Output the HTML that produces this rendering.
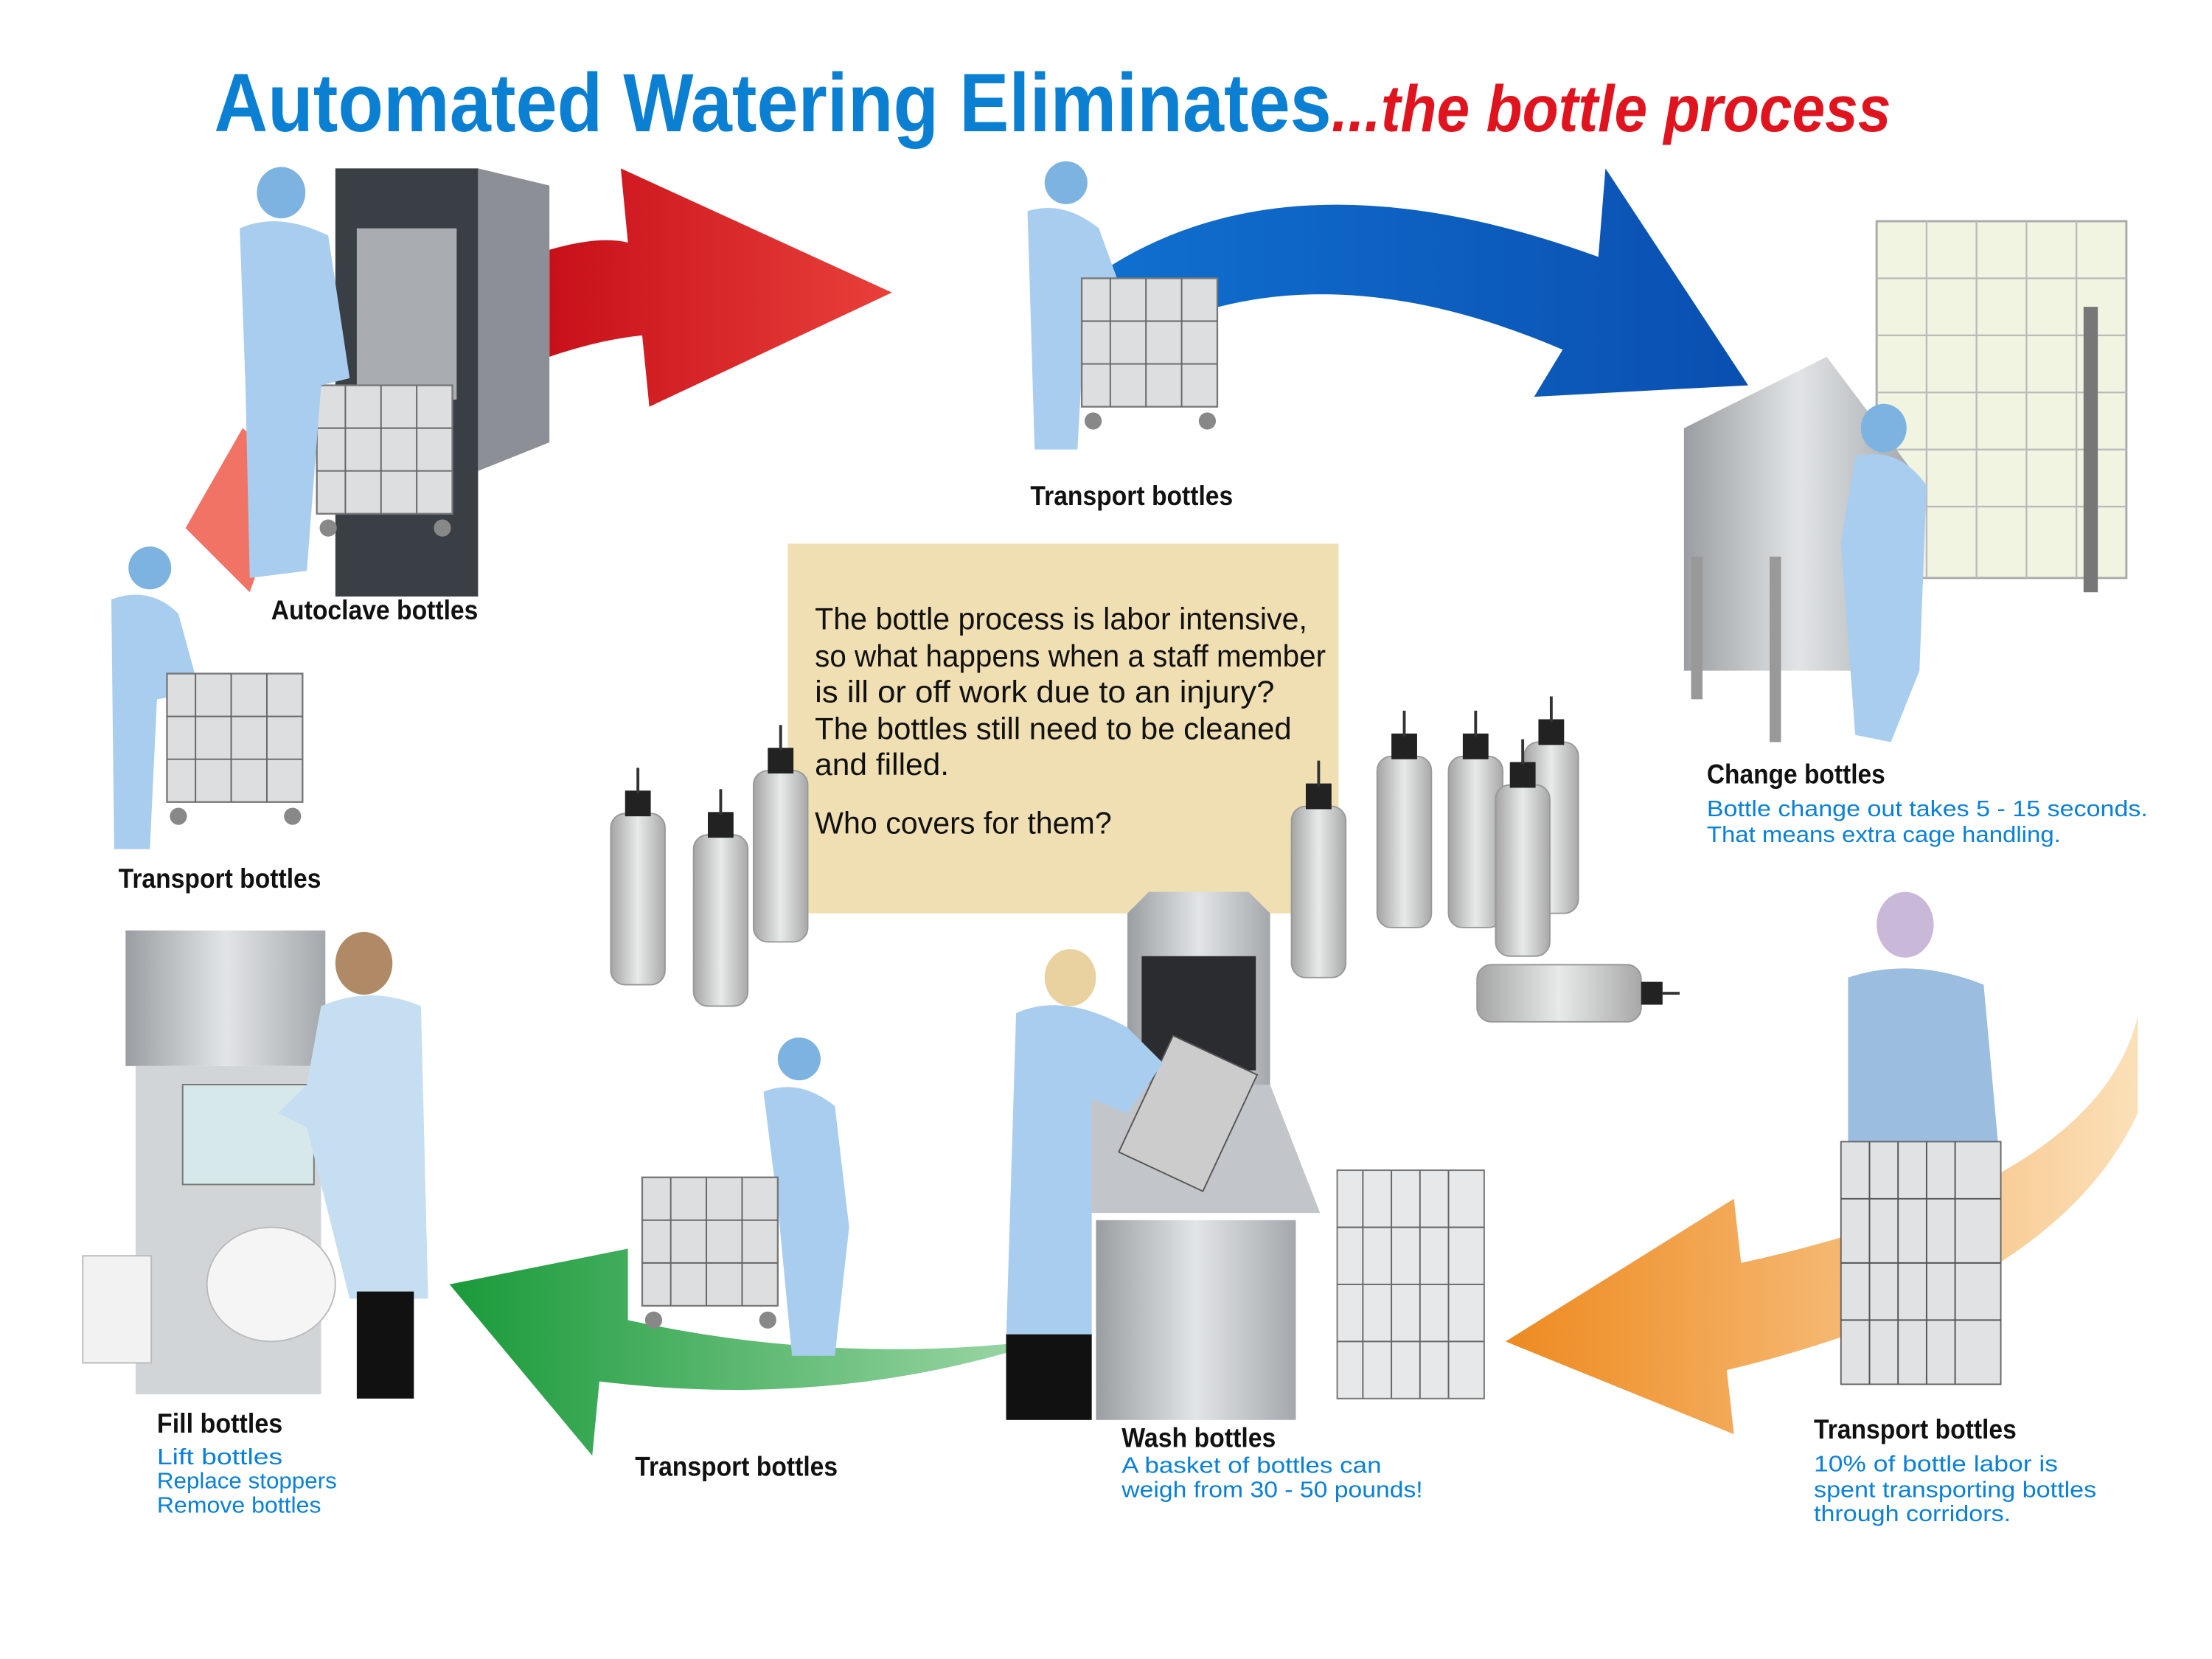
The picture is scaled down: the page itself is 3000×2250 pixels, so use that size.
<!DOCTYPE html>
<html><head><meta charset="utf-8"><style>
html,body{margin:0;padding:0;background:#fff;width:3000px;height:2250px;overflow:hidden}
svg{display:block}
text{font-family:"Liberation Sans",sans-serif}
</style></head><body>
<svg width="3000" height="2250" viewBox="0 0 1550 1162.5" xmlns="http://www.w3.org/2000/svg">
<defs>
<linearGradient id="red" x1="0" x2="1"><stop offset="0" stop-color="#c8101a"/><stop offset="1" stop-color="#e8403a"/></linearGradient>
<linearGradient id="blue" x1="0" x2="1"><stop offset="0" stop-color="#1070d0"/><stop offset="1" stop-color="#0a4fb0"/></linearGradient>
<linearGradient id="green" x1="0" x2="1"><stop offset="0" stop-color="#1a9a3a"/><stop offset="1" stop-color="#a8dcb0"/></linearGradient>
<linearGradient id="orange" x1="0" x2="1"><stop offset="0" stop-color="#ee8a20"/><stop offset="1" stop-color="#fbe0b8"/></linearGradient>
<linearGradient id="bottle" x1="0" x2="1"><stop offset="0" stop-color="#a4a4a4"/><stop offset=".5" stop-color="#e8eaea"/><stop offset="1" stop-color="#a8a8a8"/></linearGradient>
<linearGradient id="metal" x1="0" x2="1"><stop offset="0" stop-color="#9a9ea2"/><stop offset=".5" stop-color="#e2e5e7"/><stop offset="1" stop-color="#a4a8ac"/></linearGradient>
<g id="b"><rect x="-19" y="0" width="38" height="120" rx="10" fill="url(#bottle)" stroke="#999" stroke-width="1"/><rect x="-9" y="-16" width="18" height="18" fill="#222"/><rect x="-1" y="-32" width="2" height="18" fill="#333"/></g>
<g id="cart"><rect x="0" y="0" width="95" height="90" fill="#dcdee0" stroke="#777" stroke-width="1.2"/><path d="M0 30H95M0 60H95M20 0V90M45 0V90M70 0V90" stroke="#666" stroke-width="1"/><circle cx="8" cy="100" r="6" fill="#888"/><circle cx="88" cy="100" r="6" fill="#888"/></g>
</defs>

<!-- title -->
<text x="150" y="92" font-size="58" font-weight="bold" fill="#0b80d2" textLength="783" lengthAdjust="spacingAndGlyphs">Automated Watering Eliminates</text>
<text x="933" y="92" font-size="46" font-weight="bold" font-style="italic" fill="#e0141e" textLength="392" lengthAdjust="spacingAndGlyphs">...the bottle process</text>

<!-- arrows -->
<path d="M130 370 L170 300 L205 330 L175 415 Z" fill="#ee5a4a" opacity=".85"/>
<path d="M385 175 Q420 165 440 170 L435 118 L625 205 L455 285 L450 235 Q420 238 385 250 Z" fill="url(#red)"/>
<path d="M765 195 Q900 100 1120 180 L1125 118 L1225 270 L1075 278 L1095 245 Q920 170 790 240 Z" fill="url(#blue)"/>
<path d="M1498 712 Q1470 830 1220 885 L1215 840 L1055 940 L1215 1005 L1210 960 Q1440 905 1498 780 Z" fill="url(#orange)"/>
<path d="M760 935 Q600 960 440 925 L440 875 L315 900 L415 1020 L420 968 Q600 990 760 930 Z" fill="url(#green)"/>

<!-- autoclave scene -->
<rect x="235" y="118" width="100" height="300" fill="#3a3f46"/>
<path d="M335 118 L385 130 L385 310 L335 330 Z" fill="#8c9096"/>
<rect x="250" y="160" width="70" height="120" fill="#c6c8ca" opacity=".8"/>
<use href="#cart" x="222" y="270"/>
<ellipse cx="197" cy="135" rx="17" ry="18" fill="#7db3e0"/>
<path d="M168 160 Q195 148 230 165 L245 265 L225 270 L215 400 L175 405 L172 270 Z" fill="#a9cdee"/>

<!-- top transport -->
<ellipse cx="747" cy="128" rx="15" ry="15" fill="#7db3e0"/>
<path d="M720 148 Q745 140 770 160 L790 215 L760 225 L755 315 L725 315 Z" fill="#a9cdee"/>
<use href="#cart" x="758" y="195"/>

<!-- left transport -->
<ellipse cx="105" cy="398" rx="15" ry="15" fill="#7db3e0"/>
<path d="M78 420 Q105 410 125 430 L140 485 L110 490 L105 595 L80 595 Z" fill="#a9cdee"/>
<use href="#cart" x="117" y="472"/>

<!-- change bottles -->
<rect x="1315" y="155" width="175" height="250" fill="#f2f4e2" stroke="#aaa" stroke-width="1.5"/>
<path d="M1315 195H1490M1315 235H1490M1315 275H1490M1315 315H1490M1315 355H1490M1350 155V405M1385 155V405M1420 155V405M1455 155V405" stroke="#bbb" stroke-width="1.2"/>
<rect x="1460" y="215" width="10" height="200" fill="#777"/>
<path d="M1180 300 L1280 250 L1340 330 L1340 470 L1180 470 Z" fill="url(#metal)"/>
<rect x="1185" y="390" width="8" height="100" fill="#999"/><rect x="1240" y="390" width="8" height="130" fill="#999"/>
<ellipse cx="1320" cy="300" rx="16" ry="17" fill="#7db3e0"/>
<path d="M1300 320 Q1330 312 1350 340 L1345 470 L1325 520 L1300 515 L1290 380 Z" fill="#a9cdee"/>

<!-- text box -->
<rect x="552" y="381" width="386" height="259" fill="#efdfb2"/>
<g font-size="21.5" fill="#111">
<text x="571" y="441" textLength="345" lengthAdjust="spacingAndGlyphs">The bottle process is labor intensive,</text>
<text x="571" y="467" textLength="358" lengthAdjust="spacingAndGlyphs">so what happens when a staff member</text>
<text x="571" y="492" textLength="322" lengthAdjust="spacingAndGlyphs">is ill or off work due to an injury?</text>
<text x="571" y="518" textLength="334" lengthAdjust="spacingAndGlyphs">The bottles still need to be cleaned</text>
<text x="571" y="543" textLength="94" lengthAdjust="spacingAndGlyphs">and filled.</text>
<text x="571" y="584" textLength="208" lengthAdjust="spacingAndGlyphs">Who covers for them?</text>
</g>

<!-- bottles -->
<use href="#b" x="447" y="570"/><use href="#b" x="505" y="585"/><use href="#b" x="547" y="540"/>
<use href="#b" x="924" y="565"/><use href="#b" x="984" y="530"/><use href="#b" x="1034" y="530"/><use href="#b" x="1087" y="520"/><use href="#b" x="1067" y="550"/>
<rect x="1035" y="676" width="115" height="40" rx="10" fill="url(#bottle)" stroke="#999"/><rect x="1150" y="688" width="15" height="16" fill="#222"/><rect x="1165" y="695" width="12" height="2" fill="#333"/>

<!-- wash scene -->
<path d="M790 640 L805 625 L875 625 L890 640 L890 770 L790 770 Z" fill="url(#metal)"/>
<rect x="800" y="670" width="80" height="80" fill="#2a2c30"/>
<path d="M755 770 L790 760 L890 760 L925 850 L750 850 Z" fill="#c2c6ca"/>
<rect x="768" y="855" width="140" height="140" fill="url(#metal)"/>
<rect x="800" y="735" width="65" height="90" fill="#ccc" stroke="#555" transform="rotate(25 832 780)"/>
<ellipse cx="750" cy="685" rx="18" ry="20" fill="#e9d2a0"/>
<path d="M712 710 Q745 695 790 720 L815 745 L790 780 L765 770 L765 940 L705 940 Z" fill="#a9cdee"/>
<rect x="705" y="935" width="60" height="60" fill="#111"/>
<rect x="937" y="820" width="103" height="160" fill="#e6e8ea" stroke="#777"/>
<path d="M937 860H1040M937 900H1040M937 940H1040M955 820V980M975 820V980M995 820V980M1015 820V980" stroke="#666"/>

<!-- bottom right transport -->
<ellipse cx="1335" cy="648" rx="20" ry="23" fill="#c9b8d8"/>
<path d="M1295 685 Q1340 670 1390 690 L1400 800 L1295 800 Z" fill="#9abde0"/>
<rect x="1290" y="800" width="112" height="170" fill="#e0e2e4" stroke="#666"/>
<path d="M1290 840H1402M1290 885H1402M1290 925H1402M1310 800V970M1330 800V970M1350 800V970M1370 800V970" stroke="#555"/>

<!-- bottom transport -->
<ellipse cx="560" cy="742" rx="15" ry="15" fill="#7db3e0"/>
<path d="M535 765 Q560 755 585 775 L595 860 L585 950 L555 950 L545 845 Z" fill="#a9cdee"/>
<use href="#cart" x="450" y="825"/>

<!-- fill scene -->
<rect x="88" y="652" width="140" height="95" fill="url(#metal)"/>
<rect x="95" y="747" width="130" height="230" fill="#d2d5d8"/>
<rect x="128" y="760" width="92" height="70" fill="#d6e8ea" stroke="#777"/>
<ellipse cx="190" cy="900" rx="45" ry="40" fill="#f5f5f5" stroke="#bbb"/>
<rect x="58" y="880" width="48" height="75" fill="#f2f2f2" stroke="#bbb"/>
<ellipse cx="255" cy="675" rx="20" ry="22" fill="#b08a66"/>
<path d="M225 705 Q260 690 295 705 L300 910 L245 910 L215 790 L195 780 L215 760 Z" fill="#c6def2"/>
<rect x="250" y="905" width="40" height="75" fill="#111"/>

<!-- labels -->
<g font-weight="bold" fill="#111" font-size="19">
<text x="190" y="434" textLength="145" lengthAdjust="spacingAndGlyphs">Autoclave bottles</text>
<text x="722" y="354" textLength="142" lengthAdjust="spacingAndGlyphs">Transport bottles</text>
<text x="83" y="622" textLength="142" lengthAdjust="spacingAndGlyphs">Transport bottles</text>
<text x="1196" y="549" textLength="125" lengthAdjust="spacingAndGlyphs">Change bottles</text>
<text x="110" y="1004" textLength="88" lengthAdjust="spacingAndGlyphs">Fill bottles</text>
<text x="445" y="1034" textLength="142" lengthAdjust="spacingAndGlyphs">Transport bottles</text>
<text x="786" y="1014" textLength="108" lengthAdjust="spacingAndGlyphs">Wash bottles</text>
<text x="1271" y="1008" textLength="142" lengthAdjust="spacingAndGlyphs">Transport bottles</text>
</g>
<g fill="#0a80d8" font-size="16">
<text x="1196" y="572" textLength="309" lengthAdjust="spacingAndGlyphs">Bottle change out takes 5 - 15 seconds.</text>
<text x="1196" y="590" textLength="248" lengthAdjust="spacingAndGlyphs">That means extra cage handling.</text>
<text x="110" y="1026" textLength="88" lengthAdjust="spacingAndGlyphs">Lift bottles</text>
<text x="110" y="1043" textLength="126" lengthAdjust="spacingAndGlyphs">Replace stoppers</text>
<text x="110" y="1060" textLength="115" lengthAdjust="spacingAndGlyphs">Remove bottles</text>
<text x="786" y="1032" textLength="182" lengthAdjust="spacingAndGlyphs">A basket of bottles can</text>
<text x="786" y="1049" textLength="211" lengthAdjust="spacingAndGlyphs">weigh from 30 - 50 pounds!</text>
<text x="1271" y="1031" textLength="171" lengthAdjust="spacingAndGlyphs">10% of bottle labor is</text>
<text x="1271" y="1049" textLength="198" lengthAdjust="spacingAndGlyphs">spent transporting bottles</text>
<text x="1271" y="1066" textLength="138" lengthAdjust="spacingAndGlyphs">through corridors.</text>
</g>
</svg>
</body></html>
